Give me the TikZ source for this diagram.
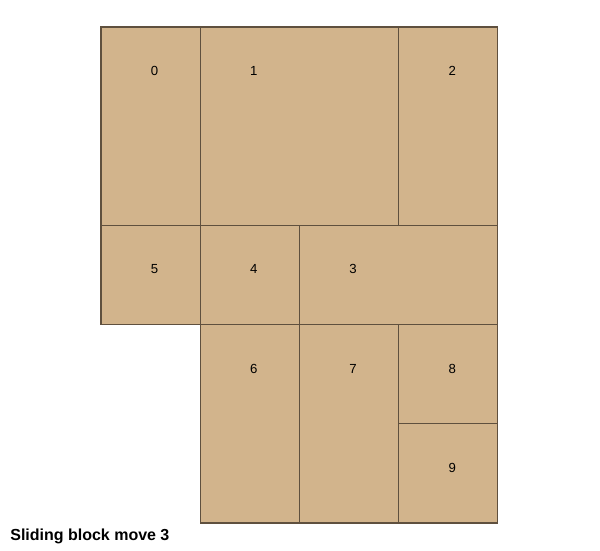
\documentclass[tikz,border=0pt]{standalone}
\usepackage{fontspec}
\setmainfont{Liberation Sans}
\definecolor{blocktan}{HTML}{D2B48C}
\definecolor{blockedge}{RGB}{95,80,62}

\begin{document}
\begin{tikzpicture}[x=0.02cm,y=-0.02cm,
  block/.style={fill=blocktan,draw=blockedge,line width=0.6pt},
  blocklabel/.style={anchor=base west,inner sep=0pt,font=\fontsize{7.5}{9}\selectfont},
  caption/.style={anchor=base west,inner sep=0pt,font=\fontsize{9.1}{11}\selectfont\bfseries}]
\useasboundingbox (0,0) rectangle (600,551);
\foreach \n/\c/\r/\w/\h in {0/0/0/1/2,1/1/0/2/2,2/3/0/1/2,5/0/2/1/1,4/1/2/1/1,
  3/2/2/2/1,6/1/3/1/2,7/2/3/1/2,8/3/3/1/1,9/3/4/1/1}
{
  \draw[block] ({101+99.2*\c},{27+99.2*\r}) rectangle ({101+99.2*(\c+\w)},{27+99.2*(\r+\h)});
  \node[blocklabel] (b\n) at ({101+99.2*(\c+0.5)},{27+99.2*(\r+0.5)-1}) {\n};
}
\node[caption] (title) at (10,541) {Sliding block move 3};
\end{tikzpicture}
\end{document}
